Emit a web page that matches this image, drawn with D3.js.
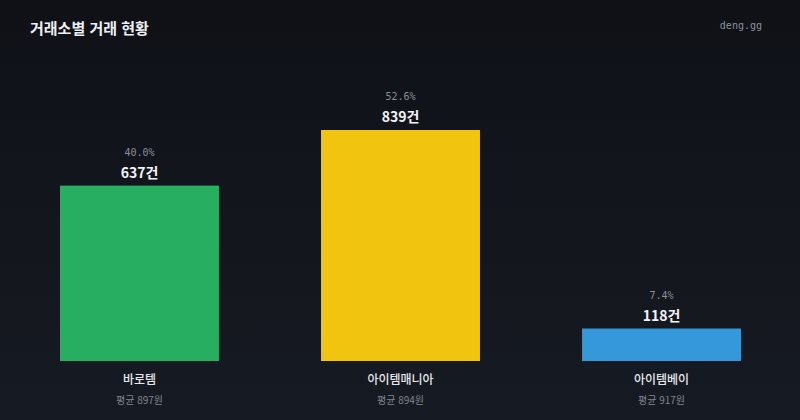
<!DOCTYPE html>
<html lang="ko">
<head>
    <meta charset="UTF-8">
    <title>거래소별 거래 현황</title>
    <script src="https://d3js.org/d3.v7.min.js"></script>
    <style>
        body { margin: 0; background: #0f1117; }
        svg { display: block; }
        .title { font-family: "Noto Sans CJK KR", sans-serif; font-size: 15px; font-weight: 700; fill: #eef0f3; }
        .brand { font-family: "DejaVu Sans Mono", monospace; font-size: 10px; fill: #8a8f98; }
        .pct { font-family: "DejaVu Sans Mono", monospace; font-size: 10px; fill: #8a8f98; }
        .count { font-family: "Noto Sans CJK KR", sans-serif; font-size: 14px; font-weight: 700; fill: #f2f3f5; }
        .name { font-family: "Noto Sans CJK KR", sans-serif; font-size: 12px; font-weight: 500; fill: #e6e8eb; }
        .avg { font-family: "Noto Sans CJK KR", sans-serif; font-size: 10px; fill: #80858e; }
    </style>
</head>
<body>
<script>
    const width = 800;
    const height = 420;

    // data
    const exchanges = ["바로템", "아이템매니아", "아이템베이"];
    const counts = [637, 839, 118];
    const shares = ["40.0%", "52.6%", "7.4%"];
    const avgPrices = [897, 894, 917];
    const colors = ["#27ae60", "#f1c40f", "#3498db"];

    const svg = d3.select("body").append("svg")
        .attr("width", width)
        .attr("height", height);

    const defs = svg.append("defs");
    const grad = defs.append("linearGradient")
        .attr("id", "bg")
        .attr("x1", 0).attr("y1", 0).attr("x2", 0).attr("y2", 1);
    grad.append("stop").attr("offset", "0%").attr("stop-color", "#0f1117");
    grad.append("stop").attr("offset", "100%").attr("stop-color", "#161a22");

    svg.append("rect")
        .attr("width", width)
        .attr("height", height)
        .attr("fill", "url(#bg)");

    svg.append("text")
        .attr("class", "title")
        .attr("x", 30)
        .attr("y", 34)
        .text("거래소별 거래 현황");

    svg.append("text")
        .attr("class", "brand")
        .attr("x", 762)
        .attr("y", 29)
        .attr("text-anchor", "end")
        .text("deng.gg");

    const x = d3.scaleBand()
        .domain(exchanges)
        .range([60, 741])
        .paddingInner(0.391)
        .paddingOuter(0);

    const y = d3.scaleLinear()
        .domain([0, d3.max(counts)])
        .range([361, 130]);

    const data = exchanges.map((name, i) => ({
        name,
        count: counts[i],
        share: shares[i],
        avg: avgPrices[i],
        color: colors[i]
    }));

    const bars = svg.append("g").selectAll(".bar")
        .data(data)
        .enter()
        .append("g")
        .attr("class", "bar");

    bars.append("rect")
        .attr("x", d => x(d.name))
        .attr("y", d => y(d.count))
        .attr("width", x.bandwidth())
        .attr("height", d => y(0) - y(d.count))
        .attr("fill", d => d.color);

    const cx = d => x(d.name) + x.bandwidth() / 2;

    bars.append("text")
        .attr("class", "pct")
        .attr("x", cx)
        .attr("y", d => y(d.count) - 30)
        .attr("text-anchor", "middle")
        .text(d => d.share);

    bars.append("text")
        .attr("class", "count")
        .attr("x", cx)
        .attr("y", d => y(d.count) - 8)
        .attr("text-anchor", "middle")
        .text(d => d.count + "건");

    bars.append("text")
        .attr("class", "name")
        .attr("x", cx)
        .attr("y", 384)
        .attr("text-anchor", "middle")
        .text(d => d.name);

    bars.append("text")
        .attr("class", "avg")
        .attr("x", cx)
        .attr("y", 404)
        .attr("text-anchor", "middle")
        .text(d => "평균 " + d.avg + "원");
</script>
</body>
</html>
